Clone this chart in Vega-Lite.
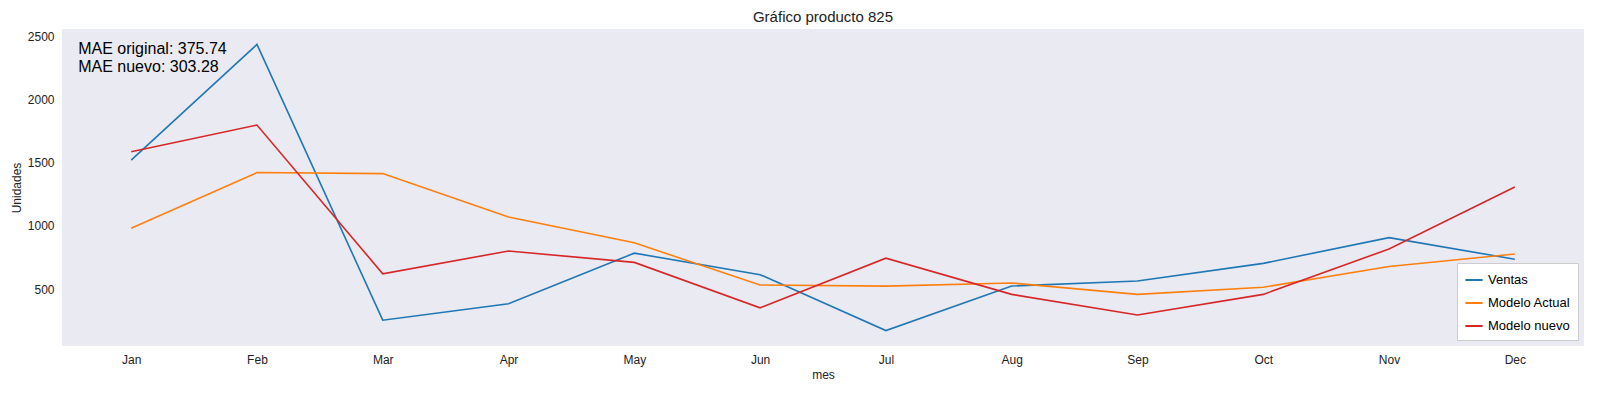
{
  "$schema": "https://vega.github.io/schema/vega-lite/v6.json",
  "autosize": {"type": "fit", "contains": "padding"},
  "width": 1600,
  "height": 400,
  "padding": {"left": 10, "right": 16, "top": 10, "bottom": 20},
  "background": "white",
  "title": {"text": "Gráfico producto 825", "font": "Liberation Sans", "fontSize": 15, "fontWeight": "normal", "color": "#222"},
  "data": {
    "values": [
      {"mes": "Jan", "serie": "Ventas", "u": 1520}, {"mes": "Feb", "serie": "Ventas", "u": 2435},
      {"mes": "Mar", "serie": "Ventas", "u": 255}, {"mes": "Apr", "serie": "Ventas", "u": 385},
      {"mes": "May", "serie": "Ventas", "u": 785}, {"mes": "Jun", "serie": "Ventas", "u": 615},
      {"mes": "Jul", "serie": "Ventas", "u": 173}, {"mes": "Aug", "serie": "Ventas", "u": 525},
      {"mes": "Sep", "serie": "Ventas", "u": 565}, {"mes": "Oct", "serie": "Ventas", "u": 704},
      {"mes": "Nov", "serie": "Ventas", "u": 908}, {"mes": "Dec", "serie": "Ventas", "u": 737},
      {"mes": "Jan", "serie": "Modelo Actual", "u": 982}, {"mes": "Feb", "serie": "Modelo Actual", "u": 1422},
      {"mes": "Mar", "serie": "Modelo Actual", "u": 1414}, {"mes": "Apr", "serie": "Modelo Actual", "u": 1071},
      {"mes": "May", "serie": "Modelo Actual", "u": 867}, {"mes": "Jun", "serie": "Modelo Actual", "u": 533},
      {"mes": "Jul", "serie": "Modelo Actual", "u": 524}, {"mes": "Aug", "serie": "Modelo Actual", "u": 549},
      {"mes": "Sep", "serie": "Modelo Actual", "u": 459}, {"mes": "Oct", "serie": "Modelo Actual", "u": 516},
      {"mes": "Nov", "serie": "Modelo Actual", "u": 680}, {"mes": "Dec", "serie": "Modelo Actual", "u": 778},
      {"mes": "Jan", "serie": "Modelo nuevo", "u": 1586}, {"mes": "Feb", "serie": "Modelo nuevo", "u": 1798},
      {"mes": "Mar", "serie": "Modelo nuevo", "u": 622}, {"mes": "Apr", "serie": "Modelo nuevo", "u": 802},
      {"mes": "May", "serie": "Modelo nuevo", "u": 712}, {"mes": "Jun", "serie": "Modelo nuevo", "u": 353},
      {"mes": "Jul", "serie": "Modelo nuevo", "u": 745}, {"mes": "Aug", "serie": "Modelo nuevo", "u": 459},
      {"mes": "Sep", "serie": "Modelo nuevo", "u": 296}, {"mes": "Oct", "serie": "Modelo nuevo", "u": 459},
      {"mes": "Nov", "serie": "Modelo nuevo", "u": 818}, {"mes": "Dec", "serie": "Modelo nuevo", "u": 1308}
    ]
  },
  "layer": [
    {
      "mark": {"type": "line", "strokeWidth": 1.6},
      "encoding": {
        "x": {
          "field": "mes", "type": "ordinal",
          "scale": {"type": "point", "padding": 0.55, "domain": ["Jan", "Feb", "Mar", "Apr", "May", "Jun", "Jul", "Aug", "Sep", "Oct", "Nov", "Dec"]},
          "axis": {"labelAngle": 0, "title": "mes", "ticks": false, "domain": false, "grid": false, "labelPadding": 8}
        },
        "y": {
          "field": "u", "type": "quantitative",
          "scale": {"domain": [51, 2557], "nice": false, "zero": false},
          "axis": {"title": "Unidades", "format": "d", "values": [500, 1000, 1500, 2000, 2500], "ticks": false, "domain": false, "grid": false, "labelPadding": 8}
        },
        "color": {
          "field": "serie", "type": "nominal",
          "scale": {"domain": ["Ventas", "Modelo Actual", "Modelo nuevo"], "range": ["#1f77b4", "#ff7f0e", "#d62728"]},
          "legend": {
            "title": null, "orient": "bottom-right", "symbolType": "stroke", "symbolStrokeWidth": 2, "symbolSize": 300,
            "fillColor": "white", "strokeColor": "#ccc", "padding": 7, "offset": 6, "labelFontSize": 13, "rowPadding": 6
          }
        }
      }
    },
    {
      "data": {"values": [{"mes": "Jan", "u": 2460, "t": ["MAE original: 375.74", "MAE nuevo: 303.28"]}]},
      "mark": {"type": "text", "align": "left", "baseline": "top", "dx": -53, "fontSize": 16, "lineHeight": 18, "color": "black"},
      "encoding": {
        "x": {"field": "mes", "type": "ordinal"},
        "y": {"field": "u", "type": "quantitative"},
        "text": {"field": "t"}
      }
    }
  ],
  "config": {
    "font": "Liberation Sans",
    "view": {"fill": "#eaeaf2", "stroke": null},
    "axis": {"labelFontSize": 12, "titleFontSize": 12, "titleFontWeight": "normal", "labelColor": "#222", "titleColor": "#222"}
  }
}
